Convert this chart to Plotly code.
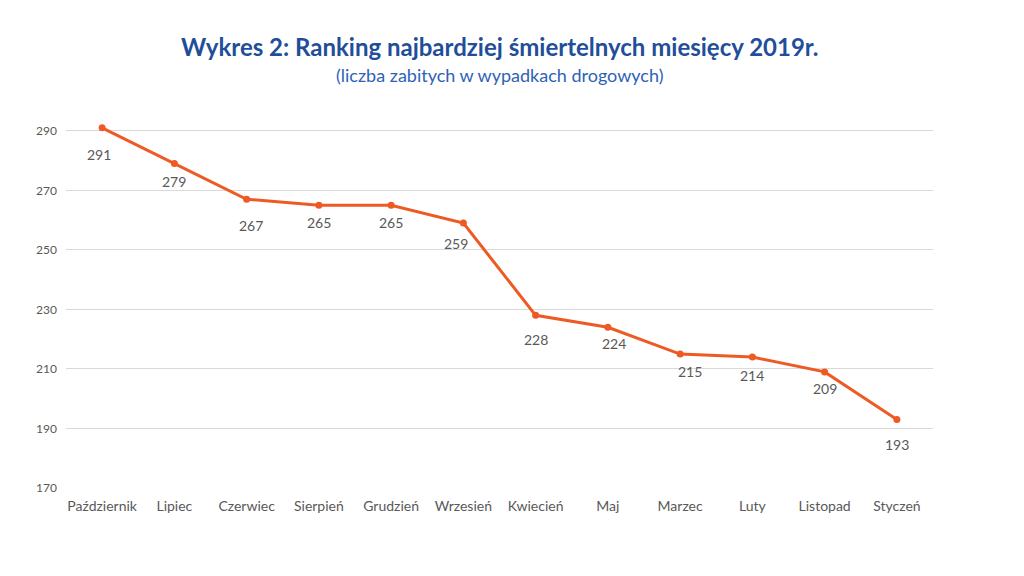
import plotly.graph_objects as go

months = ["Październik", "Lipiec", "Czerwiec", "Sierpień", "Grudzień", "Wrzesień",
          "Kwiecień", "Maj", "Marzec", "Luty", "Listopad", "Styczeń"]
deaths = [291, 279, 267, 265, 265, 259, 228, 224, 215, 214, 209, 193]
y_ticks = [170, 190, 210, 230, 250, 270, 290]

# manual data-label placement (pixels below / right of each point)
label_dy = [27, 18, 26, 17, 17, 20, 24, 16, 17, 18, 17, 25]
label_dx = [-3, 0, 4, 0, 0, -7, 0, 6, 10, 0, 0, 0]

FONT = "Lato, 'Open Sans', sans-serif"
LINE = "#EE5A24"
GREY = "#595959"

fig = go.Figure()
fig.add_trace(go.Scatter(
    x=months, y=deaths, mode="lines+markers",
    line=dict(color=LINE, width=3),
    marker=dict(color=LINE, size=7),
    hoverinfo="x+y", showlegend=False,
))
for m, v, dy, dx in zip(months, deaths, label_dy, label_dx):
    fig.add_annotation(x=m, y=v, text=str(v), showarrow=False, yshift=-dy, xshift=dx,
                       font=dict(family=FONT, size=14, color=GREY))

fig.add_annotation(xref="paper", yref="paper", x=0.5, y=1.140, yanchor="middle",
                   text="<b>Wykres 2: Ranking najbardziej śmiertelnych miesięcy 2019r.</b>",
                   showarrow=False, font=dict(family=FONT, size=24, color="#1F4E9A"))
fig.add_annotation(xref="paper", yref="paper", x=0.5, y=1.067, yanchor="middle",
                   text="(liczba zabitych w wypadkach drogowych)",
                   showarrow=False, font=dict(family=FONT, size=18, color="#2F62B5"))

fig.update_layout(
    width=1024, height=576,
    paper_bgcolor="white", plot_bgcolor="white",
    margin=dict(l=58, r=99, t=93, b=96),
    font=dict(family=FONT, color=GREY),
    xaxis=dict(
        type="category", range=[-0.5, len(months) - 0.5], autorange=False,
        showgrid=False, showline=False, zeroline=False,
        ticks="", tickfont=dict(family=FONT, size=14, color=GREY), ticklabelstandoff=8,
    ),
    yaxis=dict(
        range=[170, 300], autorange=False, tickvals=y_ticks, showgrid=True, gridcolor="#D9D9D9",
        gridwidth=1, zeroline=False, showline=False, ticks="",
        tickfont=dict(family=FONT, size=12, color=GREY), ticklabelstandoff=8,
    ),
)
fig.write_html("out.html")
